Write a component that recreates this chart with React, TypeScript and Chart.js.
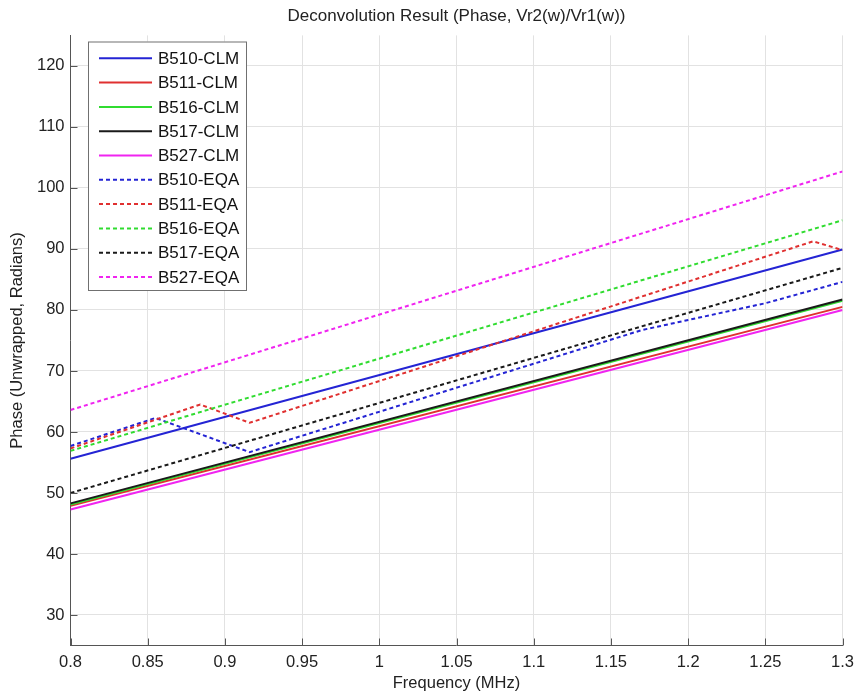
import React, { useEffect, useRef } from "react";
import { Chart, registerables } from "chart.js";

Chart.register(...registerables);

const X_TICKS = [0.8, 0.85, 0.9, 0.95, 1.0, 1.05, 1.1, 1.15, 1.2, 1.25, 1.3];
const Y_TICKS = [30, 40, 50, 60, 70, 80, 90, 100, 110, 120];

const LABELS = [
  "B510-CLM", "B511-CLM", "B516-CLM", "B517-CLM", "B527-CLM",
  "B510-EQA", "B511-EQA", "B516-EQA", "B517-EQA", "B527-EQA",
];
const COLORS = [
  "#2424d4", "#e03030", "#30dc30", "#1a1a1a", "#f024f0",
  "#2424d4", "#e03030", "#30dc30", "#1a1a1a", "#f024f0",
];
const DASHED = [false, false, false, false, false, true, true, true, true, true];

// frequency (MHz) and phase values per series
const F_B510_CLM = [0.8, 1.3];
const P_B510_CLM = [55.6, 89.9];
const F_B511_CLM = [0.8, 1.3];
const P_B511_CLM = [47.9, 80.5];
const F_B516_CLM = [0.8, 1.3];
const P_B516_CLM = [48.1, 81.5];
const F_B517_CLM = [0.8, 1.3];
const P_B517_CLM = [48.3, 81.7];
const F_B527_CLM = [0.8, 1.3];
const P_B527_CLM = [47.3, 80.0];
const F_B510_EQA = [0.8, 0.855, 0.916, 1.17, 1.25, 1.3];
const P_B510_EQA = [57.7, 62.3, 56.7, 76.7, 81.1, 84.6];
const F_B511_EQA = [0.8, 0.884, 0.916, 1.281, 1.3];
const P_B511_EQA = [57.3, 64.5, 61.5, 91.25, 89.8];
const F_B516_EQA = [0.8, 1.3];
const P_B516_EQA = [56.9, 94.7];
const F_B517_EQA = [0.8, 1.3];
const P_B517_EQA = [50.0, 86.9];
const F_B527_EQA = [0.8, 1.3];
const P_B527_EQA = [63.6, 102.7];

const FREQS = [F_B510_CLM, F_B511_CLM, F_B516_CLM, F_B517_CLM, F_B527_CLM,
  F_B510_EQA, F_B511_EQA, F_B516_EQA, F_B517_EQA, F_B527_EQA];
const PHASES = [P_B510_CLM, P_B511_CLM, P_B516_CLM, P_B517_CLM, P_B527_CLM,
  P_B510_EQA, P_B511_EQA, P_B516_EQA, P_B517_EQA, P_B527_EQA];

const FONT = "'Liberation Sans', Arial, Helvetica, sans-serif";
const DASH = [4, 3];

const legendPlugin = {
  id: "boxLegend",
  afterDatasetsDraw(chart: any) {
    const ctx = chart.ctx;
    const x0 = 88, y0 = 41.5, w = 158, h = 248.5;
    ctx.save();
    ctx.fillStyle = "#ffffff";
    ctx.fillRect(x0, y0, w, h);
    ctx.strokeStyle = "#707070";
    ctx.lineWidth = 1;
    ctx.strokeRect(x0 + 0.5, y0 + 0.5, w, h);
    chart.data.datasets.forEach((ds: any, i: number) => {
      const y = 58.3 + i * 24.3;
      ctx.beginPath();
      ctx.setLineDash(ds.borderDash || []);
      ctx.strokeStyle = ds.borderColor;
      ctx.lineWidth = 2;
      ctx.moveTo(99, y);
      ctx.lineTo(152, y);
      ctx.stroke();
      ctx.setLineDash([]);
      ctx.fillStyle = "#111";
      ctx.font = `17px ${FONT}`;
      ctx.textBaseline = "middle";
      ctx.textAlign = "left";
      ctx.fillText(ds.label, 158, y + 1);
    });
    ctx.restore();
  },
};

const inwardTicks = {
  id: "inwardTicks",
  afterDraw(chart: any) {
    const ctx = chart.ctx;
    const { left, bottom } = chart.chartArea;
    const xs = chart.scales.x;
    const ys = chart.scales.y;
    ctx.save();
    ctx.strokeStyle = "#555";
    ctx.lineWidth = 1;
    ctx.beginPath();
    X_TICKS.forEach((t) => {
      const px = Math.round(xs.getPixelForValue(t)) + 0.5;
      ctx.moveTo(px, bottom);
      ctx.lineTo(px, bottom - 7);
    });
    Y_TICKS.forEach((t) => {
      const py = Math.round(ys.getPixelForValue(t)) + 0.5;
      ctx.moveTo(left, py);
      ctx.lineTo(left + 7, py);
    });
    ctx.stroke();
    ctx.restore();
  },
};

export default function App() {
  const ref = useRef<HTMLCanvasElement | null>(null);
  useEffect(() => {
    document.body.style.margin = "0";
    const datasets = LABELS.map((label, i) => ({
      label,
      data: FREQS[i].map((f, j) => ({ x: f, y: PHASES[i][j] })),
      borderColor: COLORS[i],
      backgroundColor: COLORS[i],
      borderWidth: 2,
      borderDash: DASHED[i] ? DASH : [],
      pointRadius: 0,
      tension: 0,
      fill: false,
      order: -i,
    }));
    const chart = new Chart(ref.current as HTMLCanvasElement, {
      type: "line",
      data: { datasets },
      plugins: [legendPlugin, inwardTicks],
      options: {
        animation: false,
        responsive: false,
        devicePixelRatio: 1,
        layout: { padding: { left: 0, right: 15.5, top: 0, bottom: 0 } },
        plugins: {
          legend: { display: false },
          tooltip: { enabled: false },
          title: {
            display: true,
            fullSize: false,
            text: "Deconvolution Result (Phase, Vr2(w)/Vr1(w))",
            color: "#222",
            font: { family: FONT, size: 17, weight: "normal" },
            padding: { top: 6, bottom: 9 },
          },
        },
        scales: {
          x: {
            type: "linear",
            min: 0.8,
            max: 1.3,
            afterBuildTicks: (s: any) => {
              s.ticks = X_TICKS.map((v) => ({ value: v }));
            },
            afterFit: (s: any) => {
              s.height = 50.5;
            },
            ticks: {
              color: "#222",
              font: { family: FONT, size: 16.5 },
              padding: 7,
              maxRotation: 0,
              autoSkip: false,
              callback: (v: any) => String(Number(Number(v).toFixed(2))),
            },
            grid: { color: "#e2e2e2", drawTicks: false },
            border: { color: "#555", width: 1 },
            title: {
              display: true,
              text: "Frequency (MHz)",
              color: "#222",
              font: { family: FONT, size: 16.5 },
              padding: { top: 0, bottom: 3 },
            },
          },
          y: {
            type: "linear",
            min: 25,
            max: 125,
            afterBuildTicks: (s: any) => {
              s.ticks = Y_TICKS.map((v) => ({ value: v }));
            },
            afterFit: (s: any) => {
              s.width = 70.5;
            },
            ticks: {
              color: "#222",
              font: { family: FONT, size: 16.5 },
              padding: 6,
              autoSkip: false,
            },
            grid: { color: "#e2e2e2", drawTicks: false },
            border: { color: "#555", width: 1 },
            title: {
              display: true,
              text: "Phase (Unwrapped, Radians)",
              color: "#222",
              font: { family: FONT, size: 16.5 },
              padding: { top: 8, bottom: 0 },
            },
          },
        },
      },
    } as any);
    return () => chart.destroy();
  }, []);
  return (
    <div style={{ position: "absolute", left: 0, top: 0, width: 861, height: 696, background: "#fff" }}>
      <canvas ref={ref} width={861} height={696} />
    </div>
  );
}
